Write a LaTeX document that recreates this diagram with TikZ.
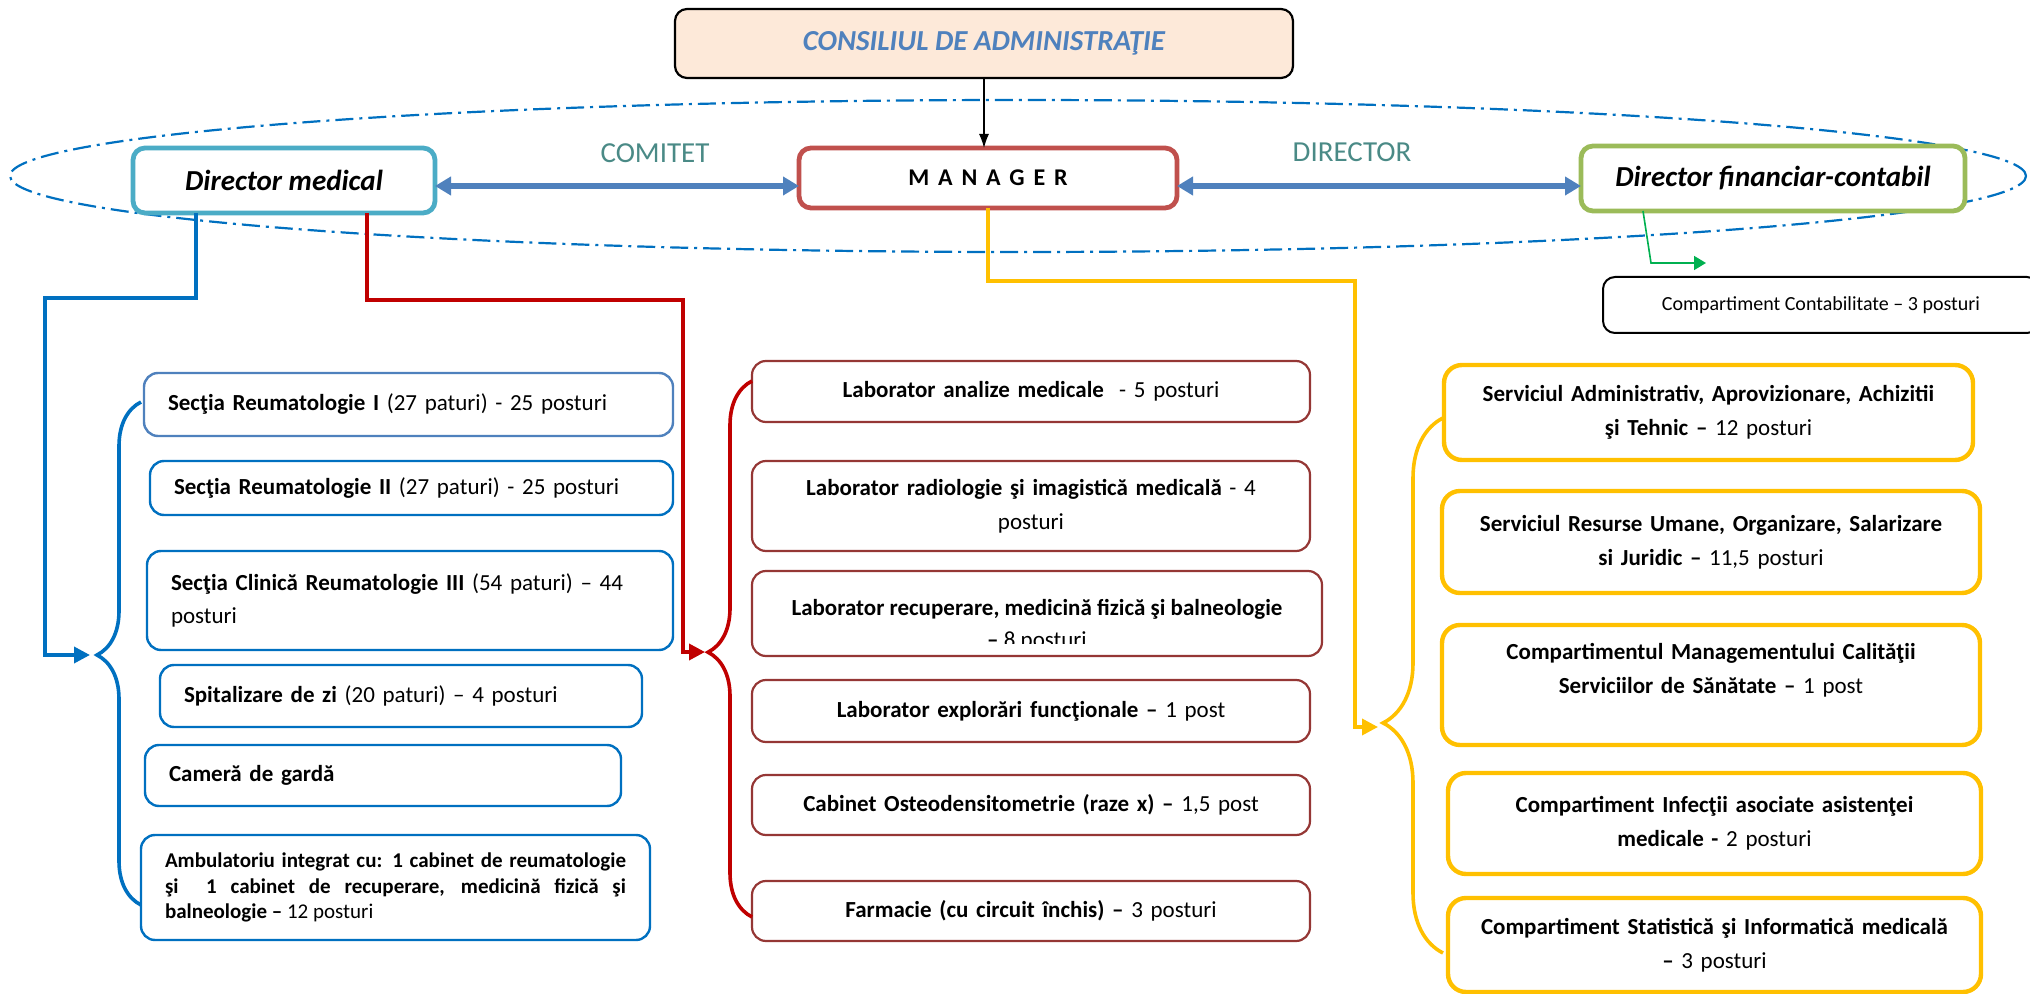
\documentclass[tikz,border=0pt]{standalone}
\usepackage{fontspec}
\setmainfont{Carlito}
\usetikzlibrary{arrows.meta, decorations.pathreplacing}

\definecolor{chartblue}{HTML}{4F81BD}
\definecolor{deepblue}{HTML}{0070C0}
\definecolor{skyblue}{HTML}{4BACC6}
\definecolor{brickred}{HTML}{C0504D}
\definecolor{darkred}{HTML}{C00000}
\definecolor{labred}{HTML}{953735}
\definecolor{olivegreen}{HTML}{9BBB59}
\definecolor{brightgreen}{HTML}{00B050}
\definecolor{servyellow}{HTML}{FFC000}
\definecolor{peach}{HTML}{FDE9D9}
\definecolor{tealgrey}{HTML}{4A8A86}

\begin{document}
\begin{tikzpicture}[x=0.5pt, y=-0.5pt, font={\fontsize{11.5}{17}\selectfont},
every node/.style={inner sep=0pt, outer sep=0pt},
headbox/.style={draw, fill=white, rounded corners=6pt, line width=2.4pt, anchor=north west,
  font={\fontsize{14.5}{17}\selectfont\bfseries\itshape}},
leftbox/.style={draw=deepblue, fill=white, rounded corners=7pt, line width=1.2pt, anchor=north west,
  align=left, inner xsep=12pt},
midbox/.style={draw=labred, fill=white, rounded corners=7pt, line width=1.1pt, anchor=north west,
  align=center, inner xsep=4pt},
rightbox/.style={draw=servyellow, fill=white, rounded corners=9pt, line width=2.2pt, anchor=north west,
  align=center, inner xsep=4pt},
boardlabel/.style={text=tealgrey, font={\fontsize{14.5}{17}\selectfont}},
]

\useasboundingbox (0,0) rectangle (2030,994);

% management circle
\draw[deepblue, line width=1.1pt, dash pattern=on 9pt off 3pt on 1.5pt off 3pt]
  (1018,176) ellipse [x radius=504pt, y radius=38pt];

\node[headbox, draw=black, line width=1.1pt, fill=peach, minimum width=309pt, minimum height=34.5pt,
  text=chartblue] (consiliu) at (675,9) {CONSILIUL DE ADMINISTRAŢIE};
\node[headbox, draw=skyblue, minimum width=151pt, minimum height=32.5pt] (dirmed) at (133,148) {Director medical};
\node[headbox, draw=brickred, minimum width=189pt, minimum height=30pt,
  font={\fontsize{12}{14}\selectfont\bfseries}] (manager) at (799,148)
  {\addfontfeature{LetterSpace=14}M A N A G E R};
\node[headbox, draw=olivegreen, minimum width=192pt, minimum height=32.5pt] (dirfin) at (1581,146)
  {Director financiar-contabil};

\node[boardlabel] (comitet) at (655,153) {COMITET};
\node[boardlabel] (director) at (1352,152) {DIRECTOR};

\node[draw, line width=1pt, rounded corners=6pt, anchor=north west, minimum width=218pt, minimum height=28pt,
  font={\fontsize{10}{12}\selectfont}] (contab) at (1603,277) {Compartiment Contabilitate – 3 posturi};

% medical sections
\node[leftbox, draw=chartblue, text width=240.5pt, minimum height=31.5pt] (sec1) at (144,373)
  {\textbf{Secţia Reumatologie I} (27 paturi) - 25 posturi};
\node[leftbox, text width=237.5pt, minimum height=27pt] (sec2) at (150,461)
  {\textbf{Secţia Reumatologie II} (27 paturi) - 25 posturi};
\node[leftbox, text width=239pt, minimum height=49.5pt, font={\fontsize{11.5}{16.5}\selectfont}] (sec3) at (147,551)
  {\textbf{Secţia Clinică Reumatologie III} (54 paturi) – 44\\posturi};
\node[leftbox, text width=217pt, minimum height=31pt] (spital) at (160,665)
  {\textbf{Spitalizare de zi} (20 paturi) – 4 posturi};
\node[leftbox, text width=214pt, minimum height=30.5pt] (garda) at (145,745) {\textbf{Cameră de gardă}};
\node[leftbox, text width=230.5pt, minimum height=52.5pt, align=justify,
  font={\fontsize{10.5}{12.75}\selectfont}] (ambul) at (141,835)
  {\textbf{Ambulatoriu integrat cu: 1 cabinet de reumatologie\linebreak
  şi\ \ 1 cabinet de recuperare, medicină fizică şi\linebreak balneologie –} 12 posturi};

% laboratories
\node[midbox, text width=271pt, minimum height=30.5pt] (lab1) at (752,361)
  {\textbf{Laborator analize medicale}\ \ - 5 posturi};
\node[midbox, text width=271pt, minimum height=45pt] (lab2) at (752,461)
  {\textbf{Laborator radiologie şi imagistică medicală} - 4\\posturi};
\node[midbox, text width=277pt, minimum height=42.5pt] (lab3) at (752,571) {};
\begin{scope}
\clip (752,571) rectangle (1322,643);
\node[align=center, font={\fontsize{11.5}{16}\selectfont}] (lab3txt) at (1037,625)
  {\textbf{Laborator recuperare, medicină fizică şi balneologie}\\\textbf{–} 8 posturi};
\end{scope}
\node[midbox, text width=271pt, minimum height=31pt] (lab4) at (752,680)
  {\textbf{Laborator explorări funcţionale –} 1 post};
\node[midbox, text width=271pt, minimum height=30pt] (lab5) at (752,775)
  {\textbf{Cabinet Osteodensitometrie (raze x) –} 1,5 post};
\node[midbox, text width=271pt, minimum height=30pt] (farm) at (752,881)
  {\textbf{Farmacie (cu circuit închis) –} 3 posturi};

% services
\node[rightbox, text width=256.5pt, minimum height=47.5pt] (serv1) at (1444,365)
  {\textbf{Serviciul Administrativ, Aprovizionare, Achizitii}\\\textbf{şi Tehnic –} 12 posturi};
\node[rightbox, text width=261pt, minimum height=51pt] (serv2) at (1442,491)
  {\textbf{Serviciul Resurse Umane, Organizare, Salarizare}\\\textbf{si Juridic –} 11,5 posturi};
\node[rightbox, text width=261pt, minimum height=60pt] (comp1) at (1442,625)
  {\textbf{Compartimentul Managementului Calităţii}\\\textbf{Serviciilor de Sănătate –} 1 post\\\mbox{}};
\node[rightbox, text width=258.5pt, minimum height=50.5pt] (comp2) at (1448,773)
  {\textbf{Compartiment Infecţii asociate asistenţei}\\\textbf{medicale -} 2 posturi};
\node[rightbox, text width=258.5pt, minimum height=47pt] (comp3) at (1448,898)
  {\textbf{Compartiment Statistică şi Informatică medicală}\\\textbf{–} 3 posturi};

\coordinate (arrowrow) at (0,186);
\coordinate (bluein) at (90,655);
\coordinate (redin) at (705,652);
\coordinate (yellowin) at (1378,727);
\coordinate (greenin) at (1706,263);

% links
\draw[chartblue, line width=3.2pt, {Triangle[length=8pt,width=9pt]}-{Triangle[length=8pt,width=9pt]}]
  (dirmed.east |- arrowrow) -- (manager.west |- arrowrow);
\draw[chartblue, line width=3.2pt, {Triangle[length=8pt,width=9pt]}-{Triangle[length=8pt,width=9pt]}]
  (manager.east |- arrowrow) -- (dirfin.west |- arrowrow);
\draw[line width=0.6pt, -{Latex[length=7pt,width=5pt]}] (consiliu.south) -- (consiliu.south |- manager.north);

\begin{scope}[line width=1.8pt, -{Triangle[length=8pt,width=8pt]}]
\draw[deepblue] ([xshift=-44pt]dirmed.south) |- (45,298) |- (bluein);
\draw[darkred] ([xshift=41.5pt]dirmed.south) |- (683,300) |- (redin);
\draw[servyellow] (manager.south) |- (1355,281) |- (yellowin);
\draw[brightgreen, line width=0.8pt, -{Triangle[length=6pt,width=7pt]}]
  ([xshift=-65pt]dirfin.south) -- (1651,263) -- (greenin);
\end{scope}

% braces
\begin{scope}[line width=1.8pt]
\draw[deepblue, decorate, decoration={brace, amplitude=22pt, aspect=0.497}] (141,905) -- (141,402);
\draw[darkred, decorate, decoration={brace, amplitude=22pt, aspect=0.494}] (752,917) -- (752,381);
\draw[servyellow, decorate, decoration={brace, amplitude=30pt, aspect=0.43}] (1443,953) -- (1443,418);
\end{scope}

\end{tikzpicture}
\end{document}
